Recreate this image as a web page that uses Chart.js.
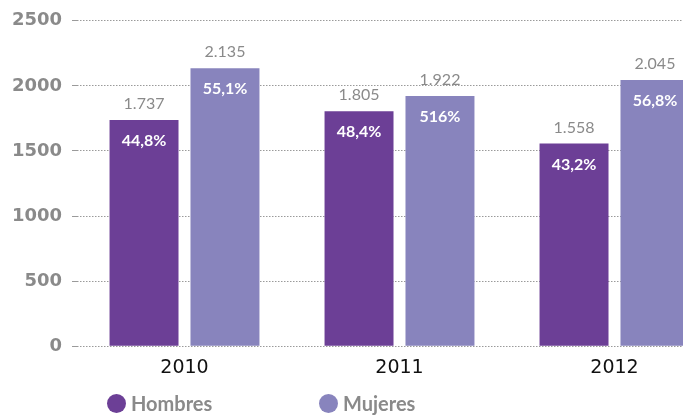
<!DOCTYPE html>
<html>
<head>
<meta charset="utf-8">
<script src="https://cdn.jsdelivr.net/npm/chart.js@4"></script>
<style>
  body { margin: 0; background: #fff; overflow: hidden; }
  #wrap { position: relative; width: 683px; height: 417px; overflow: hidden; }
  #myChart { position: absolute; left: 0; top: 0; }
  #legend { position: absolute; left: 107px; top: 393px; font: bold 20px Lato, sans-serif; color: #8a8a8a; }
  .item { position: absolute; top: 0; white-space: nowrap; display: flex; align-items: center; height: 20px; }
  .dot { width: 19px; height: 19px; border-radius: 50%; margin-right: 5px; }
</style>
</head>
<body>
<div id="wrap">
  <canvas id="myChart" width="722" height="417"></canvas>
  <div id="legend"></div>
</div>
<script>
var years = ['2010', '2011', '2012'];
var hombres = [1737, 1805, 1558];
var mujeres = [2135, 1922, 2045];
var pctHombres = ['44,8%', '48,4%', '43,2%'];
var pctMujeres = ['55,1%', '516%', '56,8%'];
var yTicks = [0, 500, 1000, 1500, 2000, 2500];

var colorHombres = '#6c3f96';
var colorMujeres = '#8884bd';

function miles(n) {
    // 1737 -> 1.737
    return String(n).replace(/\B(?=(\d{3})+(?!\d))/g, '.');
}

var barLabels = {
    id: 'barLabels',
    afterDatasetsDraw(chart) {
        var ctx = chart.ctx;
        var pcts = [pctHombres, pctMujeres];
        ctx.save();
        ctx.textAlign = 'center';
        ctx.textBaseline = 'middle';
        chart.data.datasets.forEach((ds, i) => {
            chart.getDatasetMeta(i).data.forEach((bar, j) => {
                ctx.fillStyle = '#8a8a8a';
                ctx.font = '16px Lato, sans-serif';
                ctx.fillText(miles(ds.data[j]), bar.x, bar.y - 16);
                ctx.fillStyle = '#fff';
                ctx.font = 'bold 16px Lato, sans-serif';
                ctx.fillText(pcts[i][j], bar.x, bar.y + 21);
            });
        });
        ctx.restore();
    }
};

var ctx = document.getElementById('myChart').getContext('2d');
var myChart = new Chart(ctx, {
    type: 'bar',
    data: {
        labels: years,
        datasets: [{
            label: 'Hombres',
            backgroundColor: colorHombres,
            data: hombres,
        },
        {
            label: 'Mujeres',
            backgroundColor: colorMujeres,
            data: mujeres,
        }
        ]
    },
    options: {
        responsive: false,
        animation: false,
        categoryPercentage: 0.753,
        barPercentage: 0.852,
        layout: { padding: { top: 9, bottom: 28, left: 0, right: 0 } },
        plugins: {
            legend: { display: false },
            tooltip: { enabled: false }
        },
        scales: {
            x: {
                grid: { display: false, drawTicks: false },
                border: { display: false },
                ticks: { color: '#111', padding: 10, font: { family: '"DejaVu Sans"', size: 19 } }
            },
            y: {
                min: 0,
                max: 2500,
                afterBuildTicks: (scale) => { scale.ticks = yTicks.map(v => ({ value: v })); },
                afterFit: (scale) => { scale.width = 77; },
                border: { display: false, dash: [1.5, 1.5] },
                grid: { color: '#9a9a9a', lineWidth: 1, tickLength: 5 },
                ticks: {
                    color: '#8a8a8a',
                    padding: 10,
                    font: { family: '"DejaVu Sans"', size: 18, weight: 'bold' },
                    callback: (v) => String(v)
                }
            }
        }
    },
    plugins: [barLabels]
});

var legend = document.getElementById('legend');
var legendX = [0, 212];
myChart.data.datasets.forEach((ds, i) => {
    var item = document.createElement('div');
    item.className = 'item';
    item.style.left = legendX[i] + 'px';
    var dot = document.createElement('span');
    dot.className = 'dot';
    dot.style.background = ds.backgroundColor;
    item.appendChild(dot);
    item.appendChild(document.createTextNode(ds.label));
    legend.appendChild(item);
});
</script>
</body>
</html>
